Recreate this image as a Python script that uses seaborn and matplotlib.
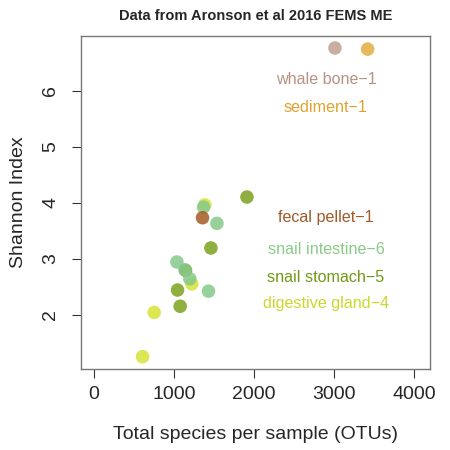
import pandas as pd
import matplotlib
matplotlib.use("Agg")
import matplotlib.pyplot as plt
import seaborn as sns

# -------------------------------
# Data
# -------------------------------
otus = [609, 754, 1225, 1387,
        1079, 1046, 1146, 1463, 1913,
        1433, 1200, 1038, 1538, 1371, 1140,
        1358, 3012, 3421]
shannon = [1.25, 2.04, 2.55, 3.96,
           2.15, 2.44, 2.79, 3.19, 4.10,
           2.42, 2.64, 2.94, 3.63, 3.92, 2.80,
           3.73, 6.76, 6.74]
sample_type = (['digestive gland'] * 4 + ['snail stomach'] * 5 +
               ['snail intestine'] * 6 + ['fecal pellet'] + ['whale bone'] + ['sediment'])

groups = ['whale bone', 'sediment', 'fecal pellet', 'snail intestine', 'snail stomach', 'digestive gland']
group_counts = [1, 1, 1, 6, 5, 4]
label_y = [6.19, 5.69, 3.73, 3.17, 2.67, 2.20]
point_colors = ['#c2a093', '#e3ad42', '#a55a25', '#86c98a', '#7ba21f', '#d8e235']
text_colors = ['#b89284', '#e0a22e', '#a05a28', '#88cc88', '#6e9a14', '#cbd829']

df = pd.DataFrame({'OTUs': otus, 'Shannon': shannon, 'Type': sample_type})
palette = dict(zip(groups, point_colors))

# -------------------------------
# Plot
# -------------------------------
sns.set_style("white")
plt.rcParams['font.family'] = ['Liberation Sans', 'DejaVu Sans']

fig = plt.figure(figsize=(4.5, 4.5), dpi=100)
ax = fig.add_axes([0.18, 0.18, 0.7756, 0.7407])

sns.scatterplot(data=df, x='OTUs', y='Shannon', hue='Type', palette=palette,
                s=95, alpha=0.85, linewidth=0, legend=False, ax=ax)

for g, n, yy, c in zip(groups, group_counts, label_y, text_colors):
    ax.text(2900, yy, f"{g}\u2212{n}", color=c, ha='center', va='center', fontsize=11.6)

ax.set_xlim(-160, 4200)
ax.set_ylim(1.03, 6.98)
ax.set_xticks([0, 1000, 2000, 3000, 4000])
ax.set_yticks([2, 3, 4, 5, 6])
ax.set_xticklabels(['0', '1000', '2000', '3000', '4000'], fontsize=14)
ax.set_yticklabels(['2', '3', '4', '5', '6'], fontsize=14, rotation=90, va='center')
ax.tick_params(axis='both', direction='out', length=6.5, width=0.8, color='#333333',
               left=True, bottom=True)
ax.tick_params(axis='x', pad=6)
ax.tick_params(axis='y', pad=9)
for sp in ax.spines.values():
    sp.set_color('#777777')
    sp.set_linewidth(1.0)

ax.set_xlabel('Total species per sample (OTUs)', fontsize=14, labelpad=16)
ax.set_ylabel('Shannon Index', fontsize=14, labelpad=11)
ax.set_title('Data from Aronson et al 2016 FEMS ME', fontsize=10.5, fontweight='bold', pad=11)

fig.savefig('out.png', dpi=100)
